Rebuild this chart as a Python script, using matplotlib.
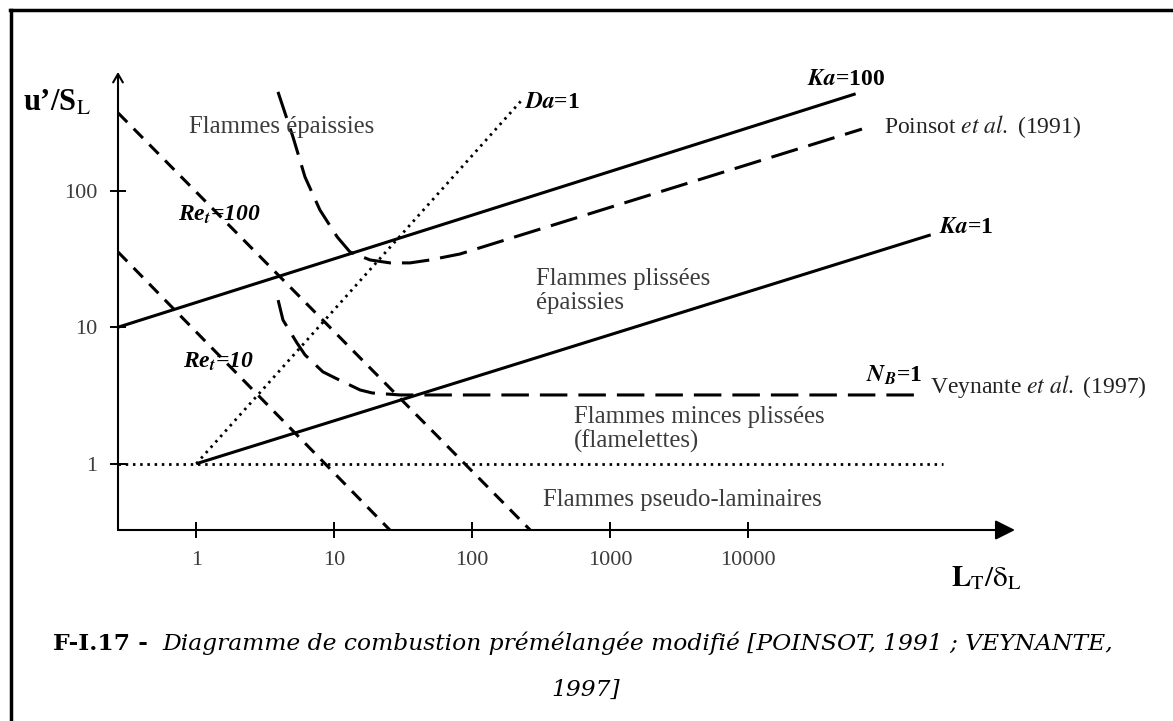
import matplotlib
matplotlib.use("Agg")
import matplotlib.pyplot as plt
from matplotlib.lines import Line2D
from matplotlib.ticker import NullLocator, FixedLocator, FixedFormatter
from matplotlib.offsetbox import TextArea, HPacker, AnnotationBbox

x_ticks = [1, 10, 100, 1000, 10000]
x_labels = ["1", "10", "100", "1000", "10000"]
y_ticks = [1, 10, 100]
y_labels = ["1", "10", "100"]

ka100_x = [0.271, 60000]
ka100_y = [10, 513]
ka1_x = [1, 2.1e5]
ka1_y = [1, 47.5]
da1_x = [1, 229]
da1_y = [1, 462]
unity_x = [0.271, 2.57e5]
unity_y = [1, 1]
re100_x = [0.271, 263]
re100_y = [372, 0.327]
re10_x = [0.271, 25.3]
re10_y = [35.6, 0.327]

poinsot_x = [3.91, 5.02, 6.14, 7.87, 10.5, 13.0, 18.2, 25.4, 35.4, 49.3, 81.5, 66700]
poinsot_y = [530, 248, 126, 72.3, 45.9, 35.6, 31.1, 29.6, 29.6, 31.1, 34.4, 283]

veynante_x = [3.92, 4.25, 5.37, 6.14, 8.28, 10.1, 15.4, 18.8, 30.0, 1.87e5]
veynante_y = [15.8, 11.3, 7.67, 6.27, 4.71, 4.26, 3.47, 3.30, 3.19, 3.19]

GRIS = "#3c3c3c"
SERIF = "Liberation Serif"

fig = plt.figure(figsize=(11.73, 7.21), dpi=100)
ax = fig.add_axes([118 / 1173, 1 - 530 / 721, (1015 - 118) / 1173, (530 - 72) / 721])
ax.set_xscale("log")
ax.set_yscale("log")
ax.set_xlim(0.271, 8.57e5)
ax.set_ylim(0.327, 741)
ax.patch.set_visible(False)
for s in ax.spines.values():
    s.set_visible(False)

# axes avec flèches
ax.annotate("", xy=(1, 0), xytext=(0, 0), xycoords="axes fraction",
            arrowprops=dict(arrowstyle="-|>,head_length=1.2,head_width=0.6",
                            lw=1.5, color="black", shrinkA=0, shrinkB=0))
ax.annotate("", xy=(0, 1), xytext=(0, 0), xycoords="axes fraction",
            arrowprops=dict(arrowstyle="->,head_length=0.6,head_width=0.35",
                            lw=1.5, color="black", shrinkA=0, shrinkB=0))

ax.xaxis.set_major_locator(FixedLocator(x_ticks))
ax.xaxis.set_major_formatter(FixedFormatter(x_labels))
ax.yaxis.set_major_locator(FixedLocator(y_ticks))
ax.yaxis.set_major_formatter(FixedFormatter(y_labels))
ax.xaxis.set_minor_locator(NullLocator())
ax.yaxis.set_minor_locator(NullLocator())
ax.tick_params(direction="inout", length=12, width=1.4, color="black",
               labelsize=16, labelcolor=GRIS)
ax.tick_params(axis="x", pad=9)
ax.tick_params(axis="y", pad=9)
for lab in ax.get_xticklabels() + ax.get_yticklabels():
    lab.set_family(SERIF)

# courbes
ax.plot(ka100_x, ka100_y, color="black", lw=2.2, solid_capstyle="butt")
ax.plot(ka1_x, ka1_y, color="black", lw=2.2, solid_capstyle="butt")
ax.plot(da1_x, da1_y, color="black", lw=2.0, linestyle=(0, (0.9, 1.7)))
ax.plot(unity_x, unity_y, color="black", lw=2.0, linestyle=(0, (0.9, 1.7)))
ax.plot(re100_x, re100_y, color="black", lw=2.2, linestyle=(0, (4.3, 3)))
ax.plot(re10_x, re10_y, color="black", lw=2.2, linestyle=(0, (4.3, 3)))
ax.plot(poinsot_x, poinsot_y, color="black", lw=2.2, linestyle=(0, (9, 3.6)))
ax.plot(veynante_x, veynante_y, color="black", lw=2.2, linestyle=(0, (9, 3.6)))

# textes des régimes
reg = dict(family=SERIF, fontsize=17.8, color=GRIS, va="center", ha="left")
ax.text(0.88, 293, "Flammes épaissies", **reg)
ax.text(289, 18.4, "Flammes plissées\népaissies", linespacing=1.1, **reg)
ax.text(546, 1.77, "Flammes minces plissées\n(flamelettes)", linespacing=1.1, **reg)
ax.text(326, 0.543, "Flammes pseudo-laminaires", **reg)

# étiquettes des lignes
lab = dict(family=SERIF, fontsize=17, color="black", va="center", ha="left",
           weight="bold", math_fontfamily="stix")
ax.text(0.737, 66.4, r"Re$_{\mathbfit{t}}$=100", style="italic", **lab)
ax.text(0.80, 5.57, r"Re$_{\mathbfit{t}}$=10", style="italic", **lab)
ax.text(237, 440, r"$\mathbfit{Da}$=1", **lab)
ax.text(26600, 649, r"$\mathbfit{Ka}$=100", **lab)
ax.text(2.41e5, 53.4, r"$\mathbfit{Ka}$=1", **lab)
ax.text(71100, 4.47, r"$\mathbfit{N_B}$=1", **lab)

ref = dict(family=SERIF, fontsize=17, color="#222222", va="center", ha="left",
           math_fontfamily="stix")
ax.text(96200, 293, r"Poinsot $\mathit{et\ al.}$ (1991)", **ref)
ax.text(2.07e5, 3.65, r"Veynante $\mathit{et\ al.}$ (1997)", **ref)

# titres des axes
fig.text(23 / 1173, 1 - 103 / 721, r"u’/S$_{\mathrm{L}}$", family=SERIF,
         weight="bold", fontsize=22, va="center", ha="left", math_fontfamily="stix")
fig.text(951 / 1173, 1 - 578 / 721, r"$\mathbf{L}_{\mathrm{T}}\mathrm{/δ}_{\mathrm{L}}$",
         fontsize=21, va="center", ha="left", math_fontfamily="stix")

# légende de figure
t_gras = TextArea("F-I.17 -", textprops=dict(family="DejaVu Serif", weight="bold",
                                             fontsize=16.8))
t_ital = TextArea("Diagramme de combustion prémélangée modifié [POINSOT, 1991 ; VEYNANTE,",
                  textprops=dict(family="DejaVu Serif", style="italic", fontsize=16.8))
ligne1 = HPacker(children=[t_gras, t_ital], align="baseline", pad=0, sep=10)
fig.add_artist(AnnotationBbox(ligne1, (583 / 1173, 1 - 643 / 721), xycoords="figure fraction",
                              frameon=False, box_alignment=(0.5, 0.5)))
fig.text(586 / 1173, 1 - 690 / 721, "1997]", family="DejaVu Serif", style="italic",
         fontsize=16.8, ha="center", va="center")

# cadre
fig.add_artist(Line2D([10 / 1173, 1], [1 - 10 / 721] * 2, transform=fig.transFigure,
                      color="black", lw=2.5))
fig.add_artist(Line2D([11 / 1173] * 2, [0, 1 - 10 / 721], transform=fig.transFigure,
                      color="black", lw=2.5))

fig.savefig("out.png", dpi=100)
